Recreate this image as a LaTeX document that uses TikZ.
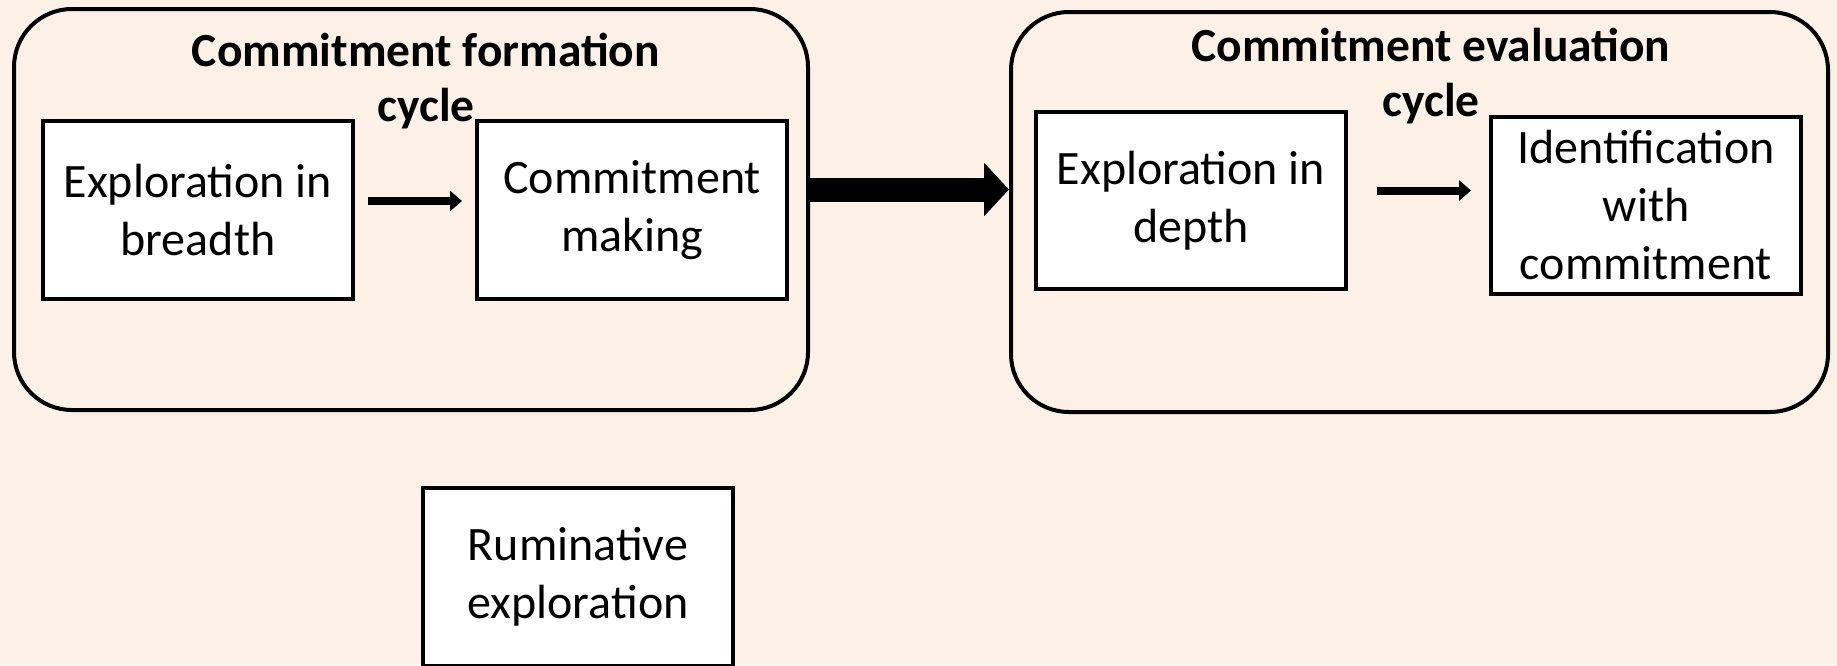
\documentclass[tikz,border=0pt]{standalone}
\usepackage{fontspec}
\setmainfont{Carlito}
\usetikzlibrary{arrows.meta,positioning}
\definecolor{peach}{RGB}{253,240,231}

\begin{document}
\begin{tikzpicture}[x=1pt, y=-1pt,
    stage/.style={draw, line width=4pt, fill=white, minimum width=310pt, minimum height=178pt, align=center, inner sep=0pt, font=\fontsize{48}{58}\selectfont},
    cyclebox/.style={draw, line width=4pt, rounded corners=58pt},
    cycletitle/.style={align=center, inner sep=0pt, font=\bfseries\fontsize{47.5}{55}\selectfont},
    arrow/.style={line width=8pt, -{Triangle[length=12pt,width=20pt]}},
    bigarrow/.style={line width=24pt, -{Triangle[length=25pt,width=52pt]}}
]
\fill[peach] (0,0) rectangle (1837,665);
\useasboundingbox (0,0) rectangle (1837,665);

% the two cycles
\node[cyclebox, minimum width=794pt, minimum height=401pt] (formation) at (411,209.5) {};
\node[cyclebox, minimum width=817pt, minimum height=400pt] (evaluation) at (1419.5,212) {};
\node[cycletitle, anchor=north] (formtitle) at (426,33) {Commitment formation\\cycle};
\node[cycletitle, anchor=north] (evaltitle) at (1431,28) {Commitment evaluation\\cycle};

% stages
\node[stage] (breadth) at (198,210) {Exploration in\\breadth};
\node[stage, right=120pt of breadth] (making) {Commitment\\making};
\node[stage, minimum height=177pt] (depth) at (1191,200.5) {Exploration in\\depth};
\node[stage, minimum height=177pt, right=141pt of depth, yshift=-5pt] (identify) {Identification\\with\\commitment};
\node[stage] (rumination) at (578,577) {Ruminative\\exploration};

% arrows
\coordinate (fa) at ([yshift=9pt, xshift=13pt]breadth.east);
\coordinate (fb) at ([yshift=9pt, xshift=-13pt]making.west);
\draw[arrow] (fa) -- (fb |- fa);
\coordinate (ea) at ([yshift=10pt, xshift=29pt]depth.east);
\coordinate (eb) at ([xshift=-18pt]identify.west);
\draw[arrow] (ea) -- (eb |- ea);
\coordinate (ba) at ([yshift=20pt]formation.east);
\draw[bigarrow] (ba) -- (ba -| evaluation.west);
\end{tikzpicture}
\end{document}
